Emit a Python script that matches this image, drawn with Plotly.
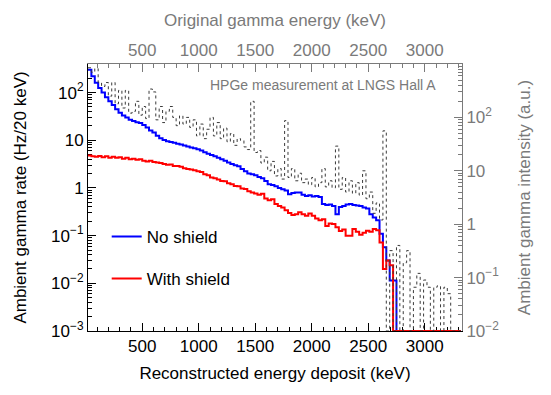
import plotly.graph_objects as go

# histogram binning (keV): 30 keV wide bins starting at 20 keV
bin_start = 20
bin_width = 30

# Ambient gamma rate (Hz/20 keV), no shield
no_shield = [300, 220, 160, 125, 100, 80, 66, 55, 45, 38,
             33, 30, 27, 25.5, 24, 23, 21, 18.5, 16, 14.5,
             12.5, 11, 10.2, 9.6, 9.2, 8.9, 8.5, 8.2, 7.8, 7.4,
             7.1, 6.8, 6.5, 6.1, 5.6, 5.2, 4.9, 4.6, 4.3, 4.0,
             3.7, 3.4, 3.2, 3.0, 2.85, 2.5, 2.25, 2.0, 1.95, 1.85,
             1.7, 1.6, 1.4, 1.2, 1.15, 1.08, 1.0, 0.94, 0.88, 0.74,
             0.78, 0.8, 0.8, 0.72, 0.68, 0.7, 0.66, 0.68, 0.65, 0.46,
             0.44, 0.45, 0.42, 0.28, 0.4, 0.42, 0.45, 0.46, 0.44, 0.43,
             0.42, 0.39, 0.37, 0.28, 0.24, 0.21, 0.11, 0.057, 0.03, 0.0115,
             0.0115, 0, 0, 0, 0, 0, 0, 0, 0, 0,
             0, 0, 0, 0, 0, 0, 0, 0, 0, 0]

# Ambient gamma rate (Hz/20 keV), with shield
with_shield = [4.8, 4.6, 4.5, 4.7, 4.4, 4.6, 4.3, 4.5, 4.3, 4.4,
               4.1, 4.3, 4.0, 4.1, 3.9, 4.0, 3.7, 3.6, 3.7, 3.5,
               3.4, 3.35, 3.2, 3.05, 3.1, 2.9, 2.9, 2.8, 2.6, 2.5,
               2.45, 2.35, 2.25, 2.15, 1.95, 1.85, 1.65, 1.6, 1.5, 1.4,
               1.38, 1.25, 1.2, 1.1, 1.08, 0.98, 0.95, 0.85, 0.8, 0.77,
               0.72, 0.76, 0.6, 0.55, 0.58, 0.46, 0.42, 0.39, 0.34, 0.3,
               0.27, 0.28, 0.31, 0.28, 0.26, 0.29, 0.26, 0.23, 0.21, 0.22,
               0.16, 0.18, 0.175, 0.15, 0.125, 0.135, 0.1, 0.1, 0.138, 0.12,
               0.105, 0.115, 0.127, 0.12, 0.138, 0.13, 0.072, 0.02, 0.03, 0.024,
               0, 0, 0, 0, 0, 0, 0, 0, 0, 0,
               0, 0, 0, 0, 0, 0, 0, 0, 0, 0]

# Original gamma intensity (a.u.)
original = [850, 700, 820, 450, 380, 450, 250, 450, 180, 320,
            150, 320, 120, 130, 200, 110, 160, 95, 340, 300,
            90, 160, 80, 130, 160, 100, 70, 107, 75, 100,
            65, 90, 45, 75, 40, 60, 100, 45, 80, 40,
            63, 35, 50, 30, 40, 37, 28, 25, 200, 22,
            24, 14, 18, 10, 15, 8, 11, 7, 87, 7.5,
            11, 6.5, 9, 6, 7, 5.5, 7.5, 5, 6, 11,
            5, 6.5, 4.8, 29, 4.5, 7.5, 4, 6.5, 3.8, 6,
            3.5, 10, 3, 4, 1.6, 2.5, 1.2, 56, 0, 0.32,
            0, 0.4, 0, 0.19, 0.32, 0, 0.066, 0.12, 0, 0.09,
            0.066, 0, 0.066, 0.07, 0, 0.066, 0.05, 0, 0, 0]

left_ticks = [1e-3, 1e-2, 1e-1, 1, 10, 100]
left_labels = ["10<sup>\u22123</sup>", "10<sup>\u22122</sup>", "10<sup>\u22121</sup>", "1", "10", "10<sup>2</sup>"]
right_ticks = [1e-2, 1e-1, 1, 10, 100, 1000]
right_labels = ["10<sup>\u22122</sup>", "10<sup>\u22121</sup>", "1", "10", "10<sup>2</sup>", ""]

FONT = "Liberation Sans, Arial, sans-serif"
GRAY = "#7a7a7a"

edges = [bin_start + bin_width * i for i in range(len(no_shield) + 1)]


def steps(vals, floor):
    v = [x if x > 0 else floor for x in vals]
    return v + [v[-1]]


minor_left = [m * 10 ** e for e in range(-3, 3) for m in range(2, 10)]
minor_right = [m * 10 ** e for e in range(-2, 3) for m in range(2, 10)]

fig = go.Figure()

fig.add_trace(go.Scatter(x=edges, y=steps(original, 1e-2), xaxis="x2", yaxis="y2",
                         mode="lines", line=dict(color="#3a3a3a", width=1, dash="dot", shape="hv"),
                         showlegend=False, hoverinfo="skip"))

fig.add_trace(go.Scatter(x=edges, y=steps(no_shield, 1e-3), mode="lines", name="No shield",
                         legendgroup="a",
                         line=dict(color="#0000ff", width=2, shape="hv")))

fig.add_trace(go.Scatter(x=edges, y=steps(with_shield, 1e-3), mode="lines", name="With shield",
                         legendgroup="b",
                         line=dict(color="#ff0000", width=2, shape="hv")))

xr = [20, 3330]

fig.update_layout(
    width=551, height=395,
    margin=dict(l=88, r=89, t=64, b=64, autoexpand=False),
    paper_bgcolor="white", plot_bgcolor="white",
    font=dict(family=FONT, size=17, color="black"),
    showlegend=True,
    legend=dict(x=0.05, y=0.42, xanchor="left", yanchor="top", bgcolor="rgba(0,0,0,0)",
                font=dict(size=17), tracegroupgap=17, itemwidth=30),
    xaxis=dict(range=xr, showline=True, linecolor="black", linewidth=1, showgrid=False, zeroline=False,
               ticks="inside", ticklen=8, tickcolor="black", tick0=0, dtick=500,
               minor=dict(ticks="inside", ticklen=4, tickcolor="black", tick0=0, dtick=100, showgrid=False),
               tickfont=dict(size=17),
               title=dict(text="Reconstructed energy deposit (keV)", font=dict(size=17), standoff=11),
               layer="below traces"),
    xaxis2=dict(range=xr, overlaying="x", side="top", anchor="y2", showline=True, linecolor=GRAY,
                linewidth=1, showgrid=False, zeroline=False,
                ticks="inside", ticklen=8, tickcolor=GRAY, tick0=0, dtick=500,
                minor=dict(ticks="inside", ticklen=4, tickcolor=GRAY, tick0=0, dtick=100, showgrid=False),
                tickfont=dict(size=17, color=GRAY),
                title=dict(text="Original gamma energy (keV)", font=dict(size=17, color=GRAY), standoff=10),
                layer="below traces"),
    yaxis=dict(type="log", range=[-3, 2.6], showline=True, linecolor="black", linewidth=1,
               showgrid=False, zeroline=False, ticks="inside", ticklen=8, tickcolor="black",
               tickmode="array", tickvals=left_ticks, ticktext=left_labels,
               minor=dict(ticks="inside", ticklen=4, tickcolor="black", tickmode="array",
                          tickvals=minor_left, showgrid=False),
               tickfont=dict(size=17),
               title=dict(text="Ambient gamma rate (Hz/20 keV)", font=dict(size=17), standoff=20),
               layer="below traces"),
    yaxis2=dict(type="log", range=[-2, 3], overlaying="y", side="right", anchor="x", showline=True,
                linecolor=GRAY, linewidth=1, showgrid=False, zeroline=False,
                ticks="inside", ticklen=8, tickcolor=GRAY,
                tickmode="array", tickvals=right_ticks, ticktext=right_labels,
                minor=dict(ticks="inside", ticklen=4, tickcolor=GRAY, tickmode="array",
                           tickvals=minor_right, showgrid=False),
                tickfont=dict(size=17, color=GRAY),
                title=dict(text="Ambient gamma intensity (a.u.)", font=dict(size=17, color=GRAY), standoff=19),
                layer="below traces"),
    annotations=[dict(text="HPGe measurement at LNGS Hall A", xref="paper", yref="paper",
                      x=0.937, y=0.92, xanchor="right", yanchor="middle", showarrow=False,
                      font=dict(size=14, color=GRAY))],
)

fig.write_html("out.html", config={"displayModeBar": False},
               post_script="document.body.style.margin='0px';")
